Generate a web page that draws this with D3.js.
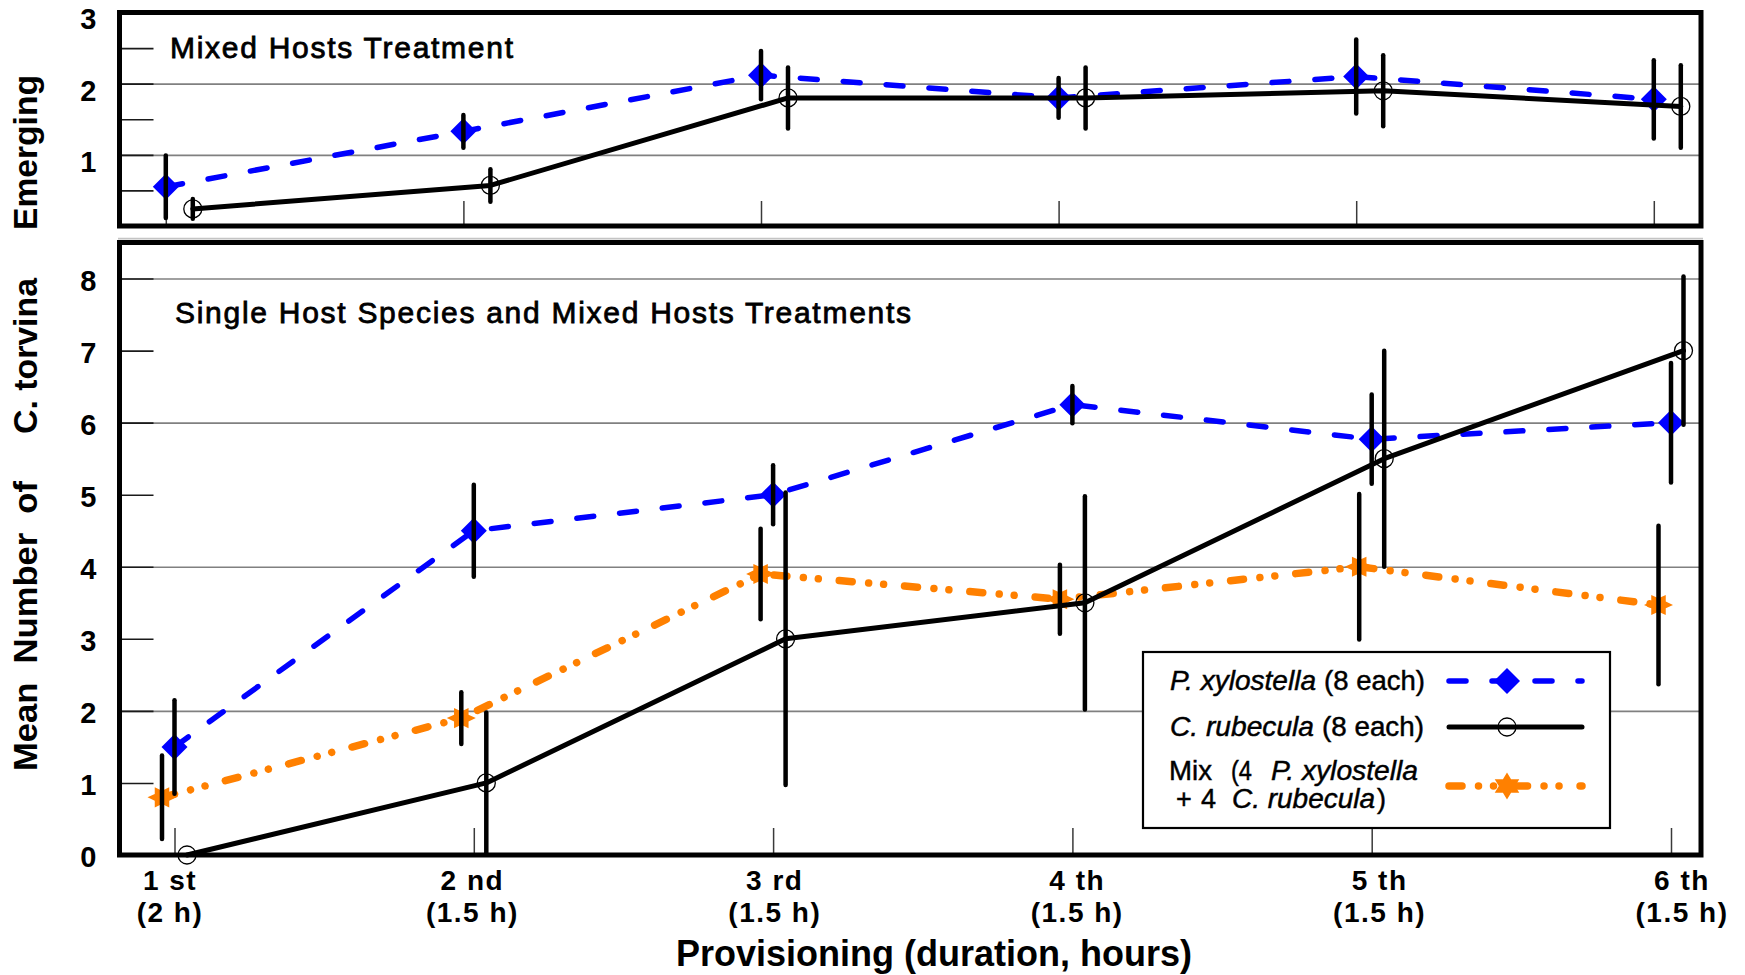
<!DOCTYPE html>
<html>
<head>
<meta charset="utf-8">
<script src="https://cdn.jsdelivr.net/npm/d3@7"></script>
<style>
  html, body { margin: 0; padding: 0; background: #ffffff; }
  svg { display: block; font-family: "Liberation Sans", Arial, Helvetica, sans-serif; }
  .pre { white-space: pre; }
</style>
</head>
<body>
<svg id="chart" width="1745" height="975"></svg>
<script>
// ---- categories and tick labels ----
const provisioning   = ["1st", "2nd", "3rd", "4th", "5th", "6th"];
const roundLabels    = ["1 st", "2 nd", "3 rd", "4 th", "5 th", "6 th"];
const durationLabels = ["(2 h)", "(1.5 h)", "(1.5 h)", "(1.5 h)", "(1.5 h)", "(1.5 h)"];
const topYTicks      = [1, 2, 3];
const topYGrid       = [1, 2];
const topYMinor      = [0.5, 1.5, 2.5];
const bottomYTicks   = [0, 1, 2, 3, 4, 5, 6, 7, 8];
const bottomYGrid    = [2, 4, 6, 8];

// ---- Mixed hosts treatment (upper panel): mean and error ----
const mixedXyloMean = [0.55, 1.33, 2.12, 1.80, 2.10, 1.78];
const mixedXyloErr  = [0.46, 0.25, 0.36, 0.30, 0.54, 0.57];
const mixedRubeMean = [0.24, 0.57, 1.80, 1.80, 1.90, 1.68];
const mixedRubeErr  = [0.16, 0.25, 0.45, 0.45, 0.52, 0.60];

// ---- Single host species and mixed hosts treatments (lower panel) ----
const xyloMean = [1.50, 4.50, 5.00, 6.25, 5.77, 6.00];
const xyloErr  = [0.67, 0.66, 0.43, 0.28, 0.64, 0.85];
const rubeMean = [0.00, 1.00, 3.00, 3.50, 5.50, 7.00];
const rubeErr  = [0.00, 1.00, 2.05, 1.50, 1.52, 1.05];
const mixMean  = [0.80, 1.90, 3.90, 3.55, 4.00, 3.47];
const mixErr   = [0.60, 0.38, 0.65, 0.50, 1.03, 1.12];

// ---- layout ----
const svg = d3.select("#chart");
const BLUE = "#0000ff", ORANGE = "#ff8000", BLACK = "#000000";

const topFrame = { x0: 119.5, x1: 1701, y0: 12.5, y1: 226 };
const botFrame = { x0: 119.5, x1: 1701, y0: 242.5, y1: 855 };

const xTop = d3.scalePoint().domain(provisioning).range([165.8, 1653.8]);
const xBot = d3.scalePoint().domain(provisioning).range([174.5, 1671]);
const xLab = d3.scalePoint().domain(provisioning).range([170, 1682]);
const yTop = d3.scaleLinear().domain([0, 3]).range([topFrame.y1, topFrame.y0]);
const yBot = d3.scaleLinear().domain([0, 8.5]).range([botFrame.y1, botFrame.y0]);

// six-pointed star marker
function hexagram(R, sx, sy, rot) {
  const pts = d3.range(12).map(k => {
    const a = rot + k * Math.PI / 6;
    const r = k % 2 === 0 ? R : R / Math.sqrt(3);
    return [r * Math.cos(a) * sx, r * Math.sin(a) * sy];
  });
  return d3.line()(pts) + "Z";
}
const diamondPath = d3.symbol(d3.symbolSquare, 338)();
const circlePath  = d3.symbol(d3.symbolCircle, Math.PI * 9 * 9)();
const starPath    = hexagram(14.5, 1, 0.8, 0);
const legendStar  = hexagram(13.5, 1.05, 1, -Math.PI / 2);

const styles = {
  xylo: { stroke: BLUE, width: 5.5, dash: "17,26", cap: "round" },
  rube: { stroke: BLACK, width: 5, dash: null, cap: "round" },
  mix:  { stroke: ORANGE, width: 7.5, dash: "13,16.5,0.01,15,0.01,21", cap: "round" }
};

function drawMarker(g, kind, x, y) {
  if (kind === "xylo") {
    g.append("path").attr("d", diamondPath)
      .attr("transform", `translate(${x},${y}) rotate(45)`)
      .attr("fill", BLUE);
  } else if (kind === "rube") {
    g.append("path").attr("d", circlePath)
      .attr("transform", `translate(${x},${y})`)
      .attr("fill", "none").attr("stroke", BLACK).attr("stroke-width", 1.3);
  } else {
    g.append("path").attr("d", starPath)
      .attr("transform", `translate(${x},${y})`)
      .attr("fill", ORANGE);
  }
}

function drawPanel(frame, x, y, opts) {
  const g = svg.append("g");
  const w = frame.x1 - frame.x0;

  // grid lines
  g.append("g").attr("transform", `translate(${frame.x0},0)`)
    .call(d3.axisLeft(y).tickValues(opts.grid).tickSize(-w).tickFormat(""))
    .call(a => a.select(".domain").remove())
    .call(a => a.selectAll("line").attr("stroke", "#808080").attr("stroke-width", 1.6));

  // minor inward ticks
  if (opts.minor.length) {
    g.append("g").attr("transform", `translate(${frame.x0},0)`)
      .call(d3.axisLeft(y).tickValues(opts.minor).tickSizeInner(-34).tickSizeOuter(0).tickFormat(""))
      .call(a => a.select(".domain").remove())
      .call(a => a.selectAll("line").attr("stroke", "#1a1a1a").attr("stroke-width", 1.6));
  }

  // labelled ticks
  g.append("g").attr("transform", `translate(${frame.x0},0)`)
    .call(d3.axisLeft(y).tickValues(opts.ticks).tickSizeInner(-34).tickSizeOuter(0)
      .tickPadding(23).tickFormat(d3.format("d")))
    .call(a => a.select(".domain").remove())
    .call(a => a.selectAll("line").attr("stroke", "#1a1a1a").attr("stroke-width", 1.6))
    .call(a => a.selectAll("text")
      .attr("font-family", "'Liberation Sans Narrow', 'Liberation Sans', Arial, sans-serif")
      .attr("font-size", 29).attr("font-weight", "bold").attr("fill", "#000")
      .attr("y", opts.labelShift)
      .attr("dy", "0.36em"));

  // x ticks along the bottom, pointing inward
  g.append("g").attr("transform", `translate(0,${frame.y1})`)
    .call(d3.axisBottom(x).tickSizeInner(-opts.xTickLen).tickSizeOuter(0).tickFormat(""))
    .call(a => a.select(".domain").remove())
    .call(a => a.selectAll("line").attr("stroke", "#3a3a3a").attr("stroke-width", 1.5));

  // frame
  g.append("rect")
    .attr("x", frame.x0).attr("y", frame.y0)
    .attr("width", w).attr("height", frame.y1 - frame.y0)
    .attr("fill", "none").attr("stroke", BLACK).attr("stroke-width", 5);

  // panel title (medium weight)
  g.append("text")
    .attr("x", opts.title.x).attr("y", opts.title.y)
    .attr("font-size", 30)
    .attr("stroke", BLACK).attr("stroke-width", 0.8)
    .attr("textLength", opts.title.len).attr("lengthAdjust", "spacing")
    .text(opts.title.text);

  // series lines and markers
  const dataG = g.append("g");
  opts.series.forEach(s => {
    const st = styles[s.kind];
    const line = d3.line()
      .x((d, i) => x(provisioning[i]) + s.offset)
      .y(d => y(d));
    dataG.append("path").datum(s.mean)
      .attr("d", line)
      .attr("fill", "none")
      .attr("stroke", st.stroke)
      .attr("stroke-width", st.width)
      .attr("stroke-linecap", st.cap)
      .attr("stroke-linejoin", "round")
      .attr("stroke-dasharray", st.dash);
    s.mean.forEach((m, i) => drawMarker(dataG, s.kind, x(provisioning[i]) + s.offset, y(m)));
  });

  // error bars
  const errG = g.append("g");
  opts.series.forEach(s => {
    s.mean.forEach((m, i) => {
      const e = s.err[i];
      if (!e) return;
      const cx = x(provisioning[i]) + s.offset;
      errG.append("line")
        .attr("x1", cx).attr("x2", cx)
        .attr("y1", y(m + e) + 1.5).attr("y2", y(Math.max(0, m - e)) - 1.5)
        .attr("stroke", BLACK).attr("stroke-width", 4.5)
        .attr("stroke-linecap", "round");
    });
  });
  return g;
}

// faint rule between the panels
svg.append("line")
  .attr("x1", 118).attr("x2", 1703).attr("y1", 238.6).attr("y2", 238.6)
  .attr("stroke", "#c4c4c4").attr("stroke-width", 1.6);

drawPanel(topFrame, xTop, yTop, {
  grid: topYGrid, minor: topYMinor, ticks: topYTicks, xTickLen: 25, labelShift: 6,
  title: { text: "Mixed Hosts Treatment", x: 170, y: 58, len: 343 },
  series: [
    { kind: "xylo", mean: mixedXyloMean, err: mixedXyloErr, offset: 0 },
    { kind: "rube", mean: mixedRubeMean, err: mixedRubeErr, offset: 27 }
  ]
});

drawPanel(botFrame, xBot, yBot, {
  grid: bottomYGrid, minor: [], ticks: bottomYTicks, xTickLen: 27, labelShift: 1.5,
  title: { text: "Single Host Species and Mixed Hosts Treatments", x: 175, y: 323, len: 736 },
  series: [
    { kind: "xylo", mean: xyloMean, err: xyloErr, offset: 0 },
    { kind: "mix",  mean: mixMean,  err: mixErr,  offset: -12.5 },
    { kind: "rube", mean: rubeMean, err: rubeErr, offset: 12.5 }
  ]
});

// category labels under the lower panel (two lines each)
const labG = svg.append("g").attr("font-size", 28).attr("font-weight", "bold")
  .attr("letter-spacing", 1.5).attr("text-anchor", "middle");
provisioning.forEach((c, i) => {
  labG.append("text").attr("class", "pre").attr("x", xLab(c)).attr("y", 890).text(roundLabels[i]);
  labG.append("text").attr("class", "pre").attr("x", xLab(c)).attr("y", 921.5).text(durationLabels[i]);
});

// axis titles
svg.append("text")
  .attr("x", 934).attr("y", 966)
  .attr("text-anchor", "middle")
  .attr("font-size", 36).attr("font-weight", "bold")
  .text("Provisioning (duration, hours)");

const yTitle = [
  { text: "Mean  Number  of", start: 771, len: 290 },
  { text: "C. torvina", start: 434, len: 156 },
  { text: "Emerging", start: 230, len: 155 }
];
yTitle.forEach(p => {
  svg.append("text")
    .attr("class", "pre")
    .attr("transform", `translate(37,${p.start}) rotate(-90)`)
    .attr("font-size", 33).attr("font-weight", "bold")
    .attr("textLength", p.len).attr("lengthAdjust", "spacingAndGlyphs")
    .text(p.text);
});

// legend
const lg = svg.append("g");
lg.append("rect")
  .attr("x", 1143).attr("y", 652).attr("width", 467).attr("height", 176)
  .attr("fill", "#fff").attr("stroke", BLACK).attr("stroke-width", 2.2);

const legendRows = [
  { kind: "xylo", y: 681 },
  { kind: "rube", y: 727 },
  { kind: "mix",  y: 786 }
];
legendRows.forEach(r => {
  const st = styles[r.kind];
  lg.append("line")
    .attr("x1", 1449).attr("x2", 1582).attr("y1", r.y).attr("y2", r.y)
    .attr("stroke", st.stroke).attr("stroke-width", st.width)
    .attr("stroke-linecap", st.cap).attr("stroke-dasharray", st.dash);
  if (r.kind === "mix") {
    lg.append("path").attr("d", legendStar)
      .attr("transform", `translate(1507,${r.y})`).attr("fill", ORANGE);
  } else {
    drawMarker(lg, r.kind, 1507, r.y);
  }
});

// legend words: [text, italic, x, width]
const lt = lg.append("g").attr("font-size", 27)
  .attr("stroke", BLACK).attr("stroke-width", 0.45);
function legendLine(y, parts) {
  parts.forEach(p => {
    const t = lt.append("text").attr("x", p[2]).attr("y", y)
      .attr("font-style", p[1] ? "italic" : "normal").text(p[0]);
    if (p[3]) t.attr("textLength", p[3]).attr("lengthAdjust", "spacingAndGlyphs");
  });
}
legendLine(690, [["P. xylostella", true, 1170, 146], ["(8 each)", false, 1324, 101]]);
legendLine(736, [["C. rubecula", true, 1170, 144], ["(8 each)", false, 1322, 102]]);
legendLine(780, [["Mix", false, 1169, 43], ["(4", false, 1231, 21], ["P. xylostella", true, 1271, 147]]);
legendLine(808, [["+", false, 1176, 0], ["4", false, 1201, 0], ["C. rubecula", true, 1232, 143], [")", false, 1377, 0]]);
</script>
</body>
</html>
